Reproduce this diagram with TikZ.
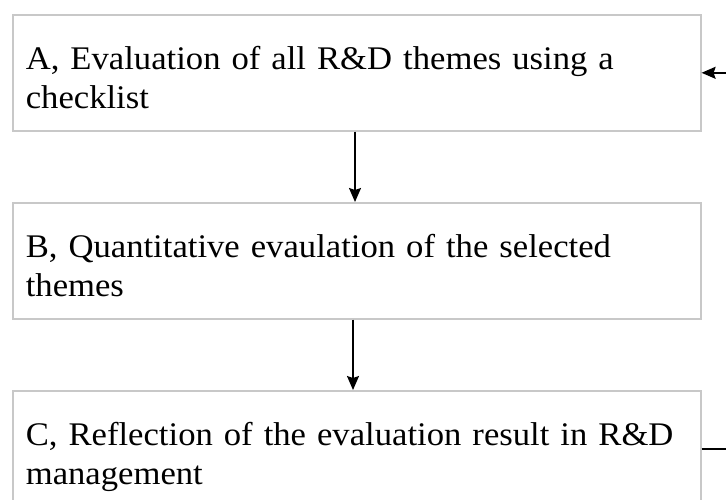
\documentclass[tikz,border=0pt]{standalone}
\usepackage{fontspec}
\setmainfont{Liberation Serif}[FakeStretch=1.05]
\usepackage{tikz}
\usetikzlibrary{arrows.meta, positioning, calc}
\usepackage{xcolor}
\definecolor{BoxGray}{HTML}{C8C8C8}

\begin{document}
\begin{tikzpicture}[
    x=1pt, y=-1pt,
    box/.style={rectangle, draw=BoxGray, line width=1.6pt, fill=white,
                minimum width=688pt, minimum height=116pt, anchor=north west,
                text width=662pt, align=left, inner xsep=13pt,
                font=\fontsize{33}{39}\selectfont,
                execute at begin node=\rule{0pt}{41pt},
                execute at end node=\rule[-8pt]{0pt}{8pt}},
    arrow/.style={-{Stealth[length=14pt, width=12pt, inset=2pt]}, line width=1.6pt, color=black}
]
    \clip (0,0) rectangle (726,500);
    \fill[white] (0,0) rectangle (726,500);
    \node[box] (A) at (12,14) {A, Evaluation of all R\&D themes using a\\checklist};
    \node[box] (B) at (12,202) {B, Quantitative evaulation of the selected\\themes};
    \node[box] (C) at (12,390) {C, Reflection of the evaluation result in R\&D\\management};
    \draw[arrow] (A.south -| 355,0) -- (B.north -| 355,0);
    \draw[arrow] (B.south -| 353,0) -- (C.north -| 353,0);
    % feedback from C back to A, runs off the right edge
    \coordinate (fbC) at ($(C.north east)+(0,59)$);
    \coordinate (fbR) at (760,449);
    \draw[arrow] (fbC) -- (fbR) |- (A.east);
\end{tikzpicture}
\end{document}
